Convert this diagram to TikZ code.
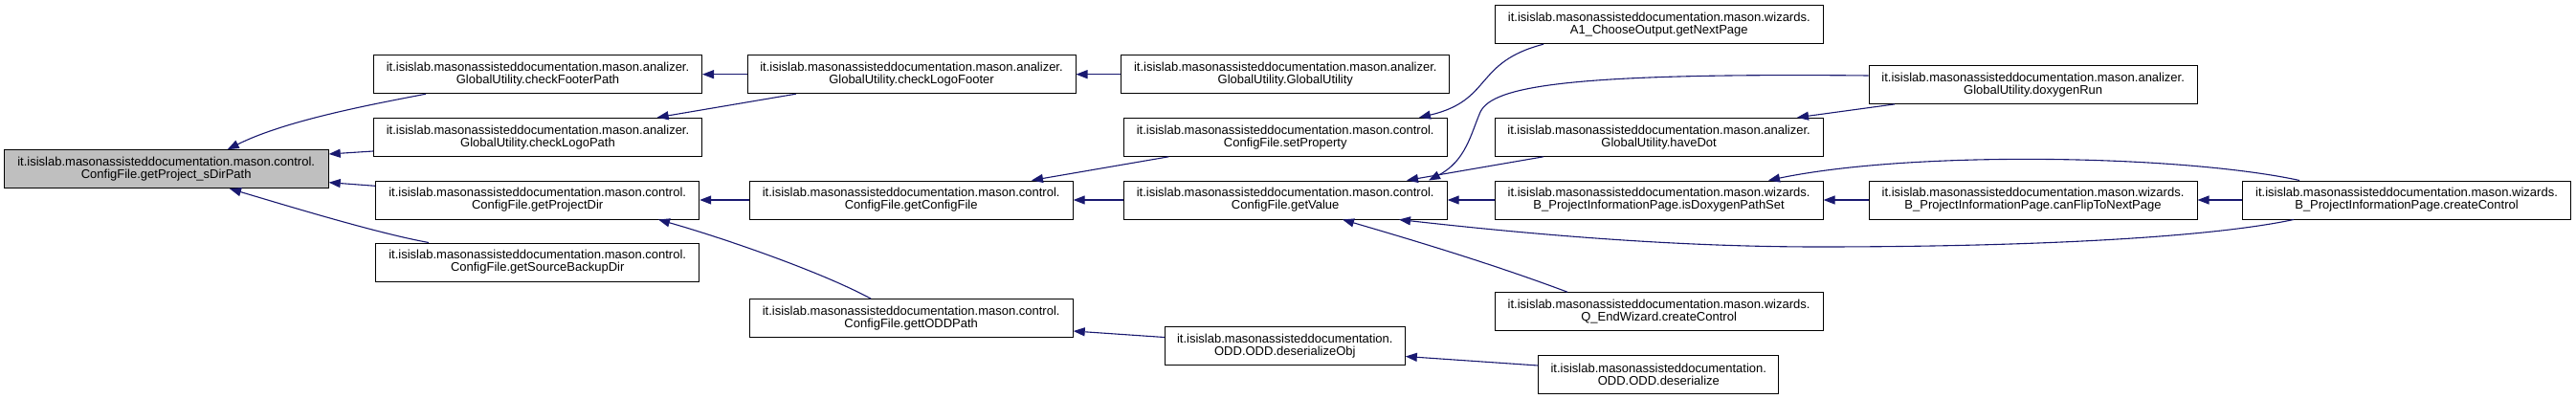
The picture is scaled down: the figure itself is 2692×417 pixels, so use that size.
\documentclass[tikz,border=0pt]{standalone}
\usepackage{fontspec}
\setmainfont{Liberation Sans}
\usetikzlibrary{arrows.meta}
\definecolor{edgeblue}{HTML}{191970}
\definecolor{rootgray}{HTML}{BFBFBF}
\begin{document}
\begin{tikzpicture}[x=1pt,y=-1pt,
  fn/.style={draw=black, line width=1pt, fill=white, rectangle, inner sep=0pt,
    minimum height=40pt, align=center, font=\fontsize{13}{13}\selectfont},
  fnroot/.style={fn, fill=rootgray},
  wA/.style={minimum width=343pt},
  wC/.style={minimum width=338pt},
  wO/.style={minimum width=251pt},
  call/.style={draw=edgeblue, line width=1.1pt, -{Triangle[length=12pt,width=9pt]}}]
\fill[white] (0,0) rectangle (2692,417);
\useasboundingbox (0,0) rectangle (2692,417);

% nodes
\node[fnroot, minimum width=339pt] (root) at (173.7,176.7) {it.isislab.masonassisteddocumentation.mason.control.\\ConfigFile.getProject\_sDirPath};
\node[fn, wA] (footer) at (562,77.7) {it.isislab.masonassisteddocumentation.mason.analizer.\\GlobalUtility.checkFooterPath};
\node[fn, wA] (logopath) at (562,143.3) {it.isislab.masonassisteddocumentation.mason.analizer.\\GlobalUtility.checkLogoPath};
\node[fn, wC] (projdir) at (561.7,209) {it.isislab.masonassisteddocumentation.mason.control.\\ConfigFile.getProjectDir};
\node[fn, wC] (srcbackup) at (561.7,274) {it.isislab.masonassisteddocumentation.mason.control.\\ConfigFile.getSourceBackupDir};
\node[fn, wA] (logofooter) at (952.5,77.7) {it.isislab.masonassisteddocumentation.mason.analizer.\\GlobalUtility.checkLogoFooter};
\node[fn, wC] (configfile) at (952.2,209) {it.isislab.masonassisteddocumentation.mason.control.\\ConfigFile.getConfigFile};
\node[fn, wC] (toddpath) at (952.2,332.7) {it.isislab.masonassisteddocumentation.mason.control.\\ConfigFile.gettODDPath};
\node[fn, wA] (globalutil) at (1343.3,77.7) {it.isislab.masonassisteddocumentation.mason.analizer.\\GlobalUtility.GlobalUtility};
\node[fn, wC] (setproperty) at (1343.2,143.3) {it.isislab.masonassisteddocumentation.mason.control.\\ConfigFile.setProperty};
\node[fn, wC] (getvalue) at (1343.2,209) {it.isislab.masonassisteddocumentation.mason.control.\\ConfigFile.getValue};
\node[fn, wO] (deserobj) at (1342.8,361.7) {it.isislab.masonassisteddocumentation.\\ODD.ODD.deserializeObj};
\node[fn, wA] (a1) at (1733.8,25.7) {it.isislab.masonassisteddocumentation.mason.wizards.\\A1\_ChooseOutput.getNextPage};
\node[fn, wA] (havedot) at (1733.6,143.3) {it.isislab.masonassisteddocumentation.mason.analizer.\\GlobalUtility.haveDot};
\node[fn, wA] (isdoxy) at (1733.6,209) {it.isislab.masonassisteddocumentation.mason.wizards.\\B\_ProjectInformationPage.isDoxygenPathSet};
\node[fn, wA] (qend) at (1733.6,325.7) {it.isislab.masonassisteddocumentation.mason.wizards.\\Q\_EndWizard.createControl};
\node[fn, wO] (deser) at (1733.3,391) {it.isislab.masonassisteddocumentation.\\ODD.ODD.deserialize};
\node[fn, wA] (doxyrun) at (2124.7,88.4) {it.isislab.masonassisteddocumentation.mason.analizer.\\GlobalUtility.doxygenRun};
\node[fn, wA] (canflip) at (2124.5,209) {it.isislab.masonassisteddocumentation.mason.wizards.\\B\_ProjectInformationPage.canFlipToNextPage};
\node[fn, wA] (createctl) at (2515,209) {it.isislab.masonassisteddocumentation.mason.wizards.\\B\_ProjectInformationPage.createControl};

% edges (caller -> callee)
\draw[call] ([xshift=-117pt]footer.south) .. controls (395,108) and (300,125) .. ([xshift=64pt]root.north);
\draw[call] ([yshift=-14.7pt]logopath.west) -- ([yshift=15.7pt]root.east);
\draw[call] ([yshift=14.7pt]projdir.west) -- ([yshift=-14pt]root.east);
\draw[call] ([xshift=-113.7pt]srcbackup.north) .. controls (395,244) and (300,215) .. ([xshift=66.3pt]root.south);
\draw[call] (logofooter.west) -- (footer.east);
\draw[call] ([xshift=-120.8pt]logofooter.south) -- ([xshift=124.7pt]logopath.north);
\draw[call] (globalutil.west) -- (logofooter.east);
\draw[call] (configfile.west) -- (projdir.east);
\draw[call] ([xshift=-42pt]toddpath.north) .. controls (860,285) and (760,250) .. ([xshift=126.3pt]projdir.south);
\draw[call] ([xshift=-121.8pt]setproperty.south) -- ([xshift=125.8pt]configfile.north);
\draw[call] (getvalue.west) -- (configfile.east);
\draw[call] ([yshift=9.2pt]deserobj.west) -- ([yshift=-13.3pt]toddpath.east);
\draw[call] ([xshift=-120.8pt]a1.south) .. controls (1540,65) and (1560,105) .. ([xshift=139.8pt]setproperty.north);
\draw[call] ([yshift=9.4pt]doxyrun.west) .. controls (1640,76) and (1560,90) .. (1547,117)
  .. controls (1537,140) and (1532,168) .. ([xshift=149.8pt]getvalue.north);
\draw[call] ([xshift=-120.6pt]havedot.south) -- ([xshift=126.8pt]getvalue.north);
\draw[call] (isdoxy.west) -- (getvalue.east);
\draw[call] ([xshift=-118pt]createctl.south) .. controls (2300,250) and (2100,258) .. (1900,258)
  .. controls (1750,258) and (1600,245) .. ([xshift=118.8pt]getvalue.south);
\draw[call] ([xshift=-95.6pt]qend.north) .. controls (1560,276) and (1480,252) .. ([xshift=59.8pt]getvalue.south);
\draw[call] ([xshift=-144.7pt]doxyrun.south) -- ([xshift=144.4pt]havedot.north);
\draw[call] (canflip.west) -- (isdoxy.east);
\draw[call] ([xshift=-112pt]createctl.north) .. controls (2280,162) and (2000,157) .. ([xshift=114.4pt]isdoxy.north);
\draw[call] (createctl.west) -- (canflip.east);
\draw[call] ([yshift=9pt]deser.west) -- ([yshift=-10.8pt]deserobj.east);
\end{tikzpicture}
\end{document}
